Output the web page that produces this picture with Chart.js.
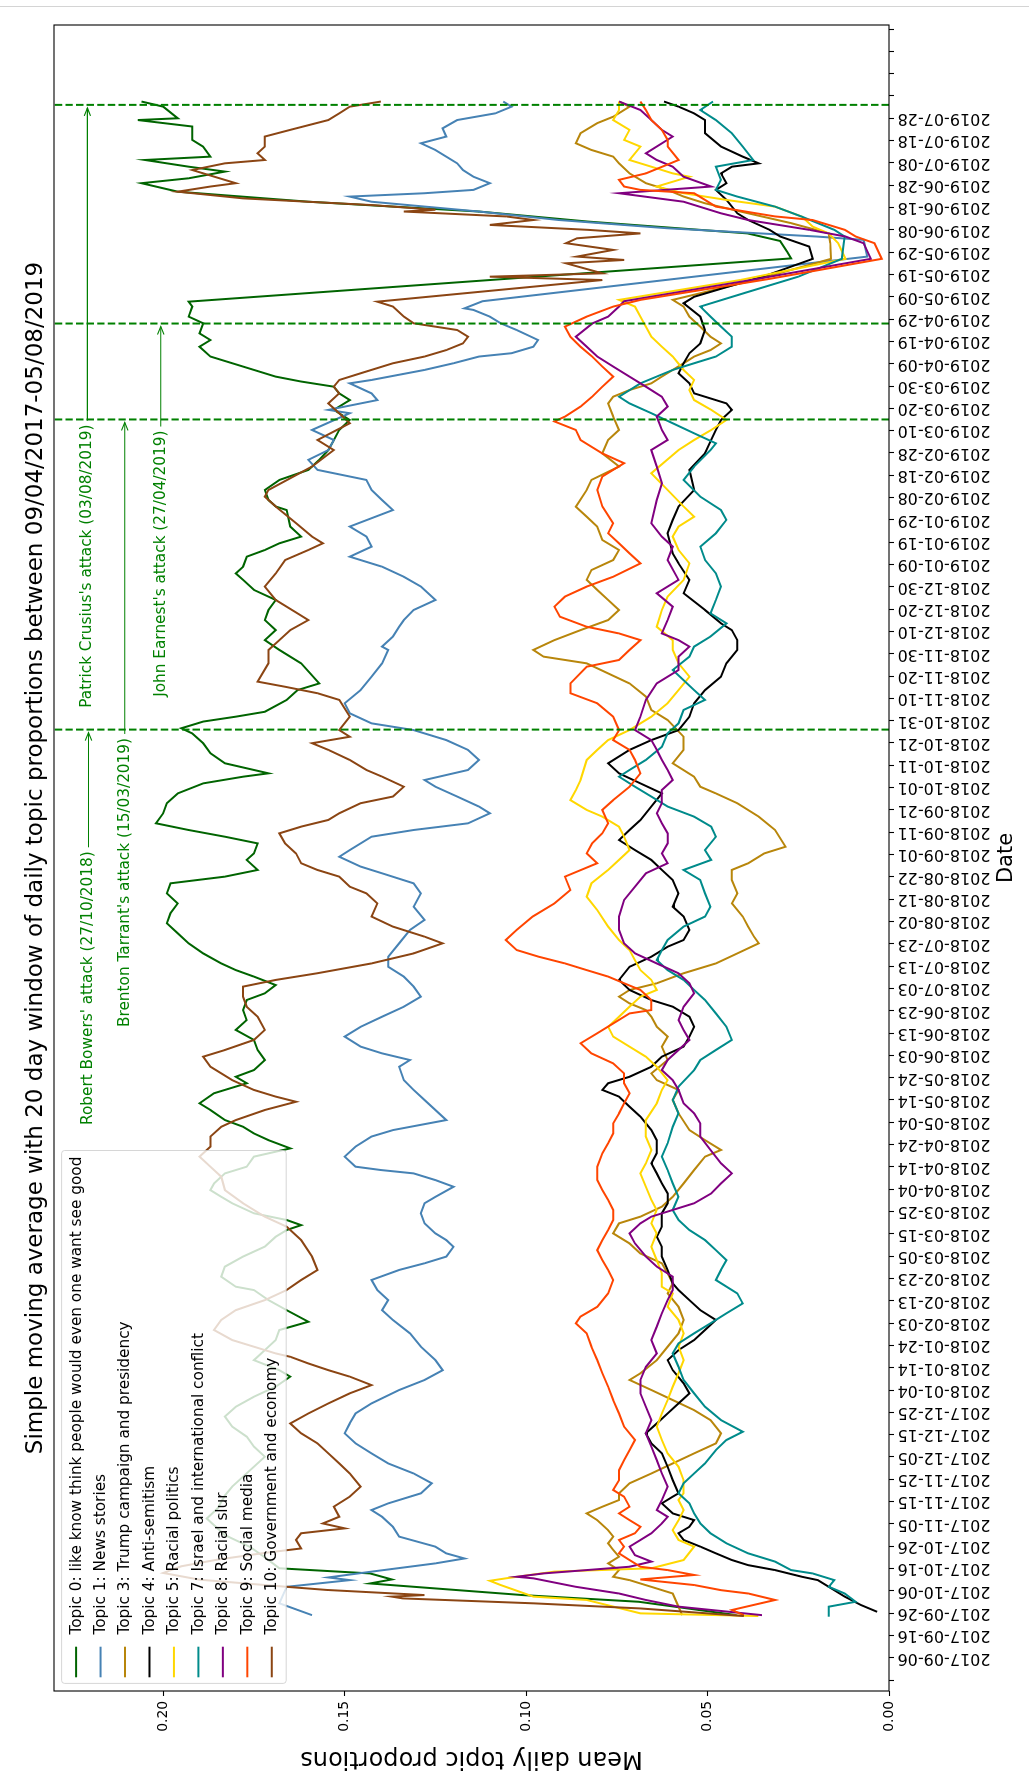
<!DOCTYPE html>
<html><head><meta charset="utf-8">
<script src="https://cdn.jsdelivr.net/npm/chart.js@4.4.1/dist/chart.umd.min.js"></script>
<style>
html,body{margin:0;padding:0;background:#fff;}
body{width:1029px;height:1785px;overflow:hidden;position:relative;}
#rule{position:absolute;left:0;top:6px;width:1029px;height:1px;background:#d4d4d4;}
#fig{position:absolute;left:0;top:0;width:1785px;height:1029px;transform-origin:0 0;transform:translate(0px,1785px) rotate(-90deg);}
</style></head><body>
<div id="rule"></div>
<div id="fig"><canvas id="c" width="1785" height="1029"></canvas></div>
<script>
// Day 0 of the x axis is 2017-09-06; every series is [day, mean proportion].
const START_DATE = '2017-09-06';
const LAST_LABEL_DAY = 690;
const yTickStep = 0.05;

const topicNames = [
  'Topic 0: like know think people would even one want see good',
  'Topic 1: News stories',
  'Topic 3: Trump campaign and presidency',
  'Topic 4: Anti-semitism',
  'Topic 5: Racial politics',
  'Topic 7: Israel and international conflict',
  'Topic 8: Racial slur',
  'Topic 9: Social media',
  'Topic 10: Government and economy'
];

const attackNames = ["Robert Bowers' attack (27/10/2018)", "Brenton Tarrant's attack (15/03/2019)",
  "Patrick Crusius's attack (03/08/2019)", "John Earnest's attack (27/04/2019)"];
const attackDates = ['2018-10-27', '2019-03-15', '2019-08-03', '2019-04-27'];

const topic0 = [[19.1,.042],[25.1,.069],[28.1,.101],[33.3,.143],[35.1,.137],[37.8,.143],[40.1,.168],[45,.172],[49.6,.176],[55,.183],[62.4,.188],[67,.185],
[72.7,.183],[76.7,.181],[81.2,.178],[85.6,.175],[90.1,.172],[94.6,.175],[99.1,.177],[103.6,.181],[108.1,.183],[112.5,.180],[117,.175],[121.5,.169],[126,.165],[128.9,.168],[133.4,.175],[137.9,.172],[142.4,.169],[146.9,.168],[150.6,.160],[155.8,.166],[160.3,.171],[164.8,.175],
[166.3,.180],[170.8,.184],[175.3,.183],[179.8,.178],[184.3,.172],[188.7,.169],[191.7,.166],[193.9,.162],[196.2,.166],[199.2,.175],[203.7,.181],[206.6,.184],[209.6,.187],[212.6,.186],[217.1,.183],[220.1,.177],[224.6,.175],[228.3,.165],[232,.171],[235,.175],[238,.178],[241,.183],[245.5,.187],[248.5,.190],[253,.186],[257.5,.177],[260.4,.180],
[263.4,.175],[267.9,.172],[272.4,.174],[276.9,.175],[281.4,.180],[285.8,.177],[290.3,.178],[294.8,.177],[297.8,.172],[301.5,.169],[305.3,.175],[308.2,.180],[311.2,.184],[315.7,.189],[320.2,.193],[324.7,.196],[329.2,.199],[333.7,.198],[338.1,.196],[342.6,.199],[347.1,.198],[350.1,.183],[353.1,.174],[357.6,.177],
[360.5,.175],[365,.174],[368,.183],[371,.193],[374,.202],[378.5,.200],[383,.199],[387.4,.196],[391.9,.189],[394.9,.178],[396.4,.171],[397.9,.175],[400.9,.183],[405.4,.187],[409.9,.189],[414.3,.192],[416.6,.195],[419.6,.189],[421.8,.180],[424,.172],[429.3,.166],[433.7,.163],[436.7,.157],[445.7,.162],
[451.7,.168],[456.1,.172],[460.6,.169],[465.1,.172],[469.6,.171],[474.1,.169],[478.6,.175],[483.1,.178],[486,.180],[489,.178],[493.5,.177],[496.5,.172],[499.5,.168],[502.5,.162],[507,.165],[514.4,.166],[516,.169],[518.9,.171],[523.4,.172],[527.9,.168],[532.4,.160],[536.9,.157],[541.3,.1545],[545.8,.153],
[550.3,.1515],[554.8,.1486],[559.3,.153],[563.7,.1486],[566.7,.1515],[569.7,.153],[572,.162],[574.2,.169],[577.2,.175],[580.2,.181],[583.2,.187],[587.6,.190],[590.6,.187],[593.6,.190],[598.1,.189],[601.1,.193],[605.6,.192],[607.8,.193],[627.2,.027],[630,.028],[635,.030],
[638.4,.039],[643.7,.083],[648.2,.113],[652.6,.160],[657.1,.196],[660.9,.206],[663.1,.193],[666.1,.183],[668.3,.193],[671.3,.205],[672.8,.187],[677.3,.189],[680.3,.192],[686.3,.192],[689.2,.207],[690,.196],[695.2,.200],[697.5,.206]];

const topic1 = [[19.1,.159],[24.4,.168],[31.8,.166],[34.8,.1486],[36,.1545],[38.6,.1426],[42.3,.125],[44.5,.117],[46.8,.122],[49.8,.125],[54.3,.135],[58.7,.1367],[63.2,.1397],[66.2,.1426],[69.2,.138],
[73.7,.129],[78.2,.126],[82.6,.131],[87.1,.138],[91.6,.1426],[96.1,.147],[100.6,.150],[105,.1486],[109.5,.147],[114,.1426],[120,.135],[124.5,.128],[128.9,.123],[133.4,.125],[139.4,.129],[145.4,.132],[151.4,.1367],[155.8,.1397],[160.3,.138],[164.8,.141],
[169.3,.1426],[173.8,.135],[176.8,.128],[179.8,.122],[184.2,.120],[187.2,.122],[190.2,.125],[194.7,.128],[199.2,.129],[203.7,.128],[206.6,.125],[211.1,.120],[214.1,.125],[217.1,.131],[218.6,.140],[220.1,.147],[224.6,.150],[229.1,.147],[233.6,.1426],[236.5,.1367],[241,.122],[250,.128],[254.5,.131],[258.9,.1337],
[264.9,.135],[267.9,.132],[270.9,.1397],[273.9,.1456],[278.4,.150],[282.8,.1456],[287.3,.1397],[291.8,.1337],[296.3,.129],[300.8,.131],[305.3,.1337],[309.7,.138],[314.2,.138],[320.2,.135],[326.2,.132],[330.7,.128],[336.6,.131],[342.6,.129],[347.1,.131],[351.6,.1397],[354.6,.1456],
[359,.1515],[362,.1486],[368,.1426],[371,.131],[374,.116],[378.5,.110],[381.5,.113],[386,.119],[390.4,.125],[393.4,.128],[397.9,.116],[402.4,.113],[406.9,.116],[411.3,.122],[415.8,.131],[418.8,.1426],[423.3,.1486],[427.8,.150],[433.7,.1456],[439.7,.1426],[445.7,.1397],
[451.7,.138],[453.2,.1397],[457.7,.1367],[462.1,.135],[465.1,.1337],[469.6,.131],[474.1,.125],[480.1,.129],[484.5,.1337],[489,.1397],[493.5,.1486],[498,.1426],[502.5,.144],[507,.1486],[514.4,.1367],[518.9,.1397],[523.4,.1426],[527.9,.144],[532.4,.1575],[536.9,.160],[541.3,.1545],
[545.8,.153],[550.3,.159],[557.8,.1486],[559.3,.1545],[563.7,.141],[566.7,.1426],[571.2,.1486],[572.7,.1426],[577.2,.128],[580.2,.120],[583.2,.113],[584.7,.104],[587.6,.098],[590.6,.0967],[595.1,.1026],[598.1,.107],[601.1,.110],[604.1,.1145],[604.8,.117],[608,.112],[628,.006],
[635.5,.007],[637,.02],[640.7,.061],[644.4,.091],[648.2,.113],[652.6,.1426],[654.9,.1486],[656.4,.128],[657.9,.1145],[660.9,.110],[663.8,.1145],[666.8,.1174],[669.8,.119],[672.8,.122],[675.8,.125],[678.8,.129],[681.8,.122],[685.5,.123],[689.2,.119],[692.2,.1085],[695.2,.104],[697.5,.1063]];

const topic3 = [[19.1,.057],[22.9,.058],[28.8,.0596],[31.8,.0655],[34.8,.0715],[36.3,.076],[39.3,.0744],[42.3,.0774],[45.3,.0744],[48.3,.076],[51.3,.0774],[54.3,.076],[57.2,.0774],[61.7,.0804],[64.7,.0833],[67.7,.079],[70.7,.0744],
[73.7,.0744],[78.2,.0715],[82.6,.0655],[87.1,.0596],[91.6,.0537],[96.1,.0477],[100.6,.0463],[106.5,.0492],[111,.0537],[115.5,.0596],[120,.0655],[124.5,.0715],[127.5,.0685],[133.4,.064],[139.4,.061],[145.4,.058],[151.4,.0566],[157.3,.058],[163.3,.061],
[167.8,.0596],[172.3,.061],[176.8,.0626],[181.2,.0685],[185.7,.0715],[190.2,.076],[194.7,.0744],[197.7,.0685],[202.2,.0626],[206.6,.0596],[212.6,.0566],[218.6,.0537],[224.6,.0507],[227.6,.0463],[232,.0507],[236.5,.055],[244,.058],[250,.0596],[254.5,.058],[258.9,.064],
[261.9,.0655],[267.9,.061],[273.9,.0626],[278.4,.061],[282.8,.064],[287.3,.0655],[290.3,.067],[293.3,.0715],[296.3,.0744],[299.3,.0715],[302.3,.064],[306.8,.0566],[311.2,.0477],[315.7,.0418],[320.2,.0359],[323.2,.0372],[327.7,.0388],[332.2,.0403],[338.1,.0433],[342.6,.0418],[348.6,.0433],[353.1,.0433],
[356.1,.0388],[360.5,.0344],[363.5,.0285],[371,.0314],[377,.0359],[383,.0418],[387.4,.0477],[390.4,.052],[394.9,.0537],[400.9,.0596],[406.9,.0566],[412.8,.0566],[420.3,.061],[424.8,.0655],[430.8,.067],[436.7,.0715],[445.7,.0833],
[448.7,.0952],[451.7,.098],[456.1,.0922],[460.6,.085],[465.1,.0774],[469.6,.0744],[474.1,.0774],[478.6,.0804],[483.1,.0833],[487.5,.082],[492,.076],[496.5,.0744],[501,.079],[507,.0804],[511.4,.0833],[515.9,.0863],[523.4,.0833],[527.9,.082],[533.9,.0744],[539.8,.079],
[545.8,.0774],[550.3,.0744],[556.3,.076],[562.2,.0774],[565.2,.076],[568.2,.0715],[571.2,.0655],[574.2,.0626],[577.2,.0596],[580.2,.0566],[583.2,.0537],[586.1,.0492],[589.1,.0463],[592.1,.0492],[596.6,.052],[601.1,.055],[605.6,.0566],[608.6,.0596],[617.5,.037],[627,.016],[634,.0162],
[638.4,.0166],[643,.027],[647.4,.0388],[651.9,.0507],[654.9,.0566],[657.9,.061],[660.9,.067],[665.3,.0715],[669.8,.0744],[672.8,.076],[675.8,.082],[678.8,.0863],[683.3,.085],[687.8,.0804],[690.7,.076],[695.2,.0715],[697.5,.0744]];

const topic4 = [[20.6,.0033],[23.6,.0077],[27.4,.0122],[31.8,.0166],[34.8,.0196],[36.3,.024],[39.3,.0314],[41.5,.0388],[43.8,.0433],[46.8,.0477],[49.8,.052],[52.8,.0566],[55.8,.058],[58.7,.055],[61.7,.0537],[64.7,.0596],[69.2,.0626],[72.2,.0596],
[73.7,.058],[79.6,.0596],[85.6,.061],[91.6,.0626],[96.1,.0655],[100.6,.067],[105,.064],[109.5,.061],[114,.058],[118.5,.055],[123,.0566],[128.9,.0596],[133.4,.061],[137.9,.058],[142.4,.0537],[146.9,.0507],[151.4,.0477],[155.8,.052],[160.3,.055],[164.8,.058],
[167.8,.0596],[173.8,.061],[179.8,.0626],[184.2,.0626],[188.7,.064],[193.2,.0626],[199.2,.0626],[203.7,.061],[208.1,.061],[212.6,.0626],[217.1,.064],[221.6,.0655],[226.1,.064],[232,.064],[236.5,.0655],[242.5,.0685],[247,.0715],[251.5,.0744],[254.5,.079],[257.5,.0774],
[260.4,.0715],[264.9,.0655],[269.4,.0626],[273.9,.0566],[278.4,.055],[282.8,.0537],[287.3,.055],[291.8,.0596],[294.8,.0655],[299.3,.0715],[303.8,.0744],[309.7,.0715],[314.2,.0655],[318.7,.061],[321.7,.0566],[326.2,.055],[332.2,.0566],[336.6,.0596],[342.6,.058],[348.6,.0596],[353.1,.0626],
[357.6,.0655],[362,.070],[366.5,.0744],[371,.0715],[375.5,.0685],[381.5,.0655],[387.4,.0626],[391.9,.0685],[396.4,.0744],[400.9,.0774],[406.9,.0715],[411.3,.0655],[415.8,.058],[421.8,.055],[427.8,.0537],[433.7,.0507],[439.7,.0463],[445.7,.0448],[451.7,.0418],
[456.1,.0418],[460.6,.0433],[463.6,.0463],[469.6,.0507],[477.1,.0566],[483.1,.055],[490.5,.058],[495,.0596],[504,.061],[510,.0596],[516,.058],[523.4,.0537],[532.4,.055],[539.8,.0507],
[545.8,.049],[550.3,.0477],[554.8,.0463],[559.3,.0433],[562.2,.0448],[566.7,.0537],[571.2,.055],[575.7,.058],[580.2,.0566],[584.7,.055],[589.1,.052],[595.1,.0507],[601.1,.052],[607.1,.0566],[610,.0537],[620,.033],[627,.021],[632.5,.022],
[637,.030],[640,.0329],[644.4,.0388],[647.4,.0418],[653.4,.0448],[657.9,.0477],[660.9,.0448],[665.3,.0463],[668.3,.0433],[669.8,.0359],[672.8,.0403],[677.3,.0463],[683.3,.0507],[689.2,.0507],[692.2,.0537],[695.2,.058],[697.5,.062]];

const topic5 = [[18.7,.036],[19.9,.0685],[25.9,.0833],[27.4,.098],[32.6,.107],[34.5,.110],[35.6,.1056],[38.6,.0922],[40.1,.0655],[43.8,.0566],[49.8,.0537],[52.8,.058],[57.2,.0596],[61.7,.058],[66.2,.0566],[70.7,.058],
[73.7,.0566],[79.6,.0566],[85.6,.058],[91.6,.061],[97.6,.0626],[103.6,.064],[109.5,.0626],[115.5,.061],[121.5,.0596],[127.5,.058],[133.4,.0566],[139.4,.058],[145.4,.0566],[151.4,.058],[157.3,.061],[163.3,.0596],
[166.3,.0626],[172.3,.0626],[178.2,.064],[184.2,.0655],[190.2,.064],[194.7,.0655],[200.7,.064],[205.2,.0655],[211.1,.067],[217.1,.0685],[221.6,.067],[227.6,.0655],[233.6,.067],[241,.067],[248.5,.064],[254.5,.0626],[258.9,.061],
[264.9,.064],[269.4,.067],[273.9,.0715],[278.4,.076],[282.8,.0774],[287.3,.0744],[291.8,.0715],[296.3,.0685],[299.3,.064],[303.8,.0655],[308.2,.0685],[312.7,.070],[317.2,.0715],[321.7,.0744],[327.7,.0774],[335.1,.0804],[341.1,.0833],[347.1,.082],[353.1,.0774],
[357.6,.0744],[362,.0715],[368,.073],[372.5,.0744],[377,.079],[380,.0833],[384.4,.0878],[388.9,.0863],[393.4,.085],[402.4,.0833],[406.9,.0804],[411.3,.0774],[415.8,.0715],[421.8,.0655],[427.8,.061],[433.7,.058],[439.7,.055],[445.7,.058],
[451.7,.0596],[456.1,.0596],[462.1,.064],[469.6,.0626],[475.6,.061],[483.1,.0566],[490.5,.055],[496.5,.058],[502.5,.0596],[507,.058],[511.4,.0537],[516,.0566],[523.4,.061],[530.9,.0655],[541.3,.058],
[545.8,.0537],[550.3,.049],[554.8,.0448],[559.3,.049],[563.7,.0537],[568.2,.055],[572.7,.0537],[577.2,.0566],[583.2,.0596],[587.6,.0626],[592.1,.0655],[596.6,.067],[601.1,.0685],[605.6,.070],[608.6,.0744],[617.5,.041],[627,.012],[634,.014],
[638.4,.0166],[641.4,.021],[645.9,.024],[650.4,.0314],[653.4,.0448],[656.4,.0566],[659.4,.064],[663.8,.055],[665.3,.0596],[668.3,.0655],[671.3,.0715],[677.3,.0685],[680.3,.073],[684.8,.0715],[689.2,.076],[693.7,.0744],[697.5,.0744]];

const topic7 = [[18.4,.0166],[22.9,.0166],[25.1,.0092],[28.8,.0122],[31.8,.0166],[34.8,.0151],[37.8,.0211],[39.3,.027],[43.1,.0314],[46.8,.0388],[51.3,.0448],[55.8,.0492],[60.2,.052],[64.7,.0537],[69.2,.055],
[73.7,.058],[78.2,.0566],[82.6,.0537],[87.1,.0507],[93.1,.0477],[97.6,.0448],[101.3,.0403],[106.5,.0463],[112.5,.0507],[118.5,.0537],[124.5,.0566],[130.4,.058],[136.4,.0596],[140.9,.058],[145.4,.0537],[149.9,.0492],[154.4,.0448],[158.8,.0403],[163.3,.0418],
[169.3,.0477],[173.8,.0463],[178.2,.0448],[182.7,.0477],[187.2,.0507],[191.7,.055],[196.2,.058],[200.7,.0596],[206.6,.058],[212.6,.0596],[218.6,.061],[224.6,.0626],[230.6,.061],[238,.0596],[244,.058],[250,.0596],[256,.058],
[263.4,.0537],[267.9,.052],[272.4,.0477],[276.9,.0433],[282.8,.0448],[288.8,.0477],[294.8,.0507],[299.3,.0537],[303.8,.0566],[308.2,.061],[312.7,.064],[317.2,.0626],[321.7,.061],[327.7,.0566],[332.2,.0507],[336.6,.0492],[342.6,.0507],[348.6,.052],[353.1,.0566],
[357.6,.049],[362,.0507],[368,.0477],[372.5,.049],[377,.0537],[381.5,.061],[386,.0655],[390.4,.070],[394.9,.0744],[397.9,.0715],[402.4,.067],[408.3,.0626],[414.3,.061],[418.8,.058],[424.8,.0566],[429.3,.0507],[433.7,.0537],[442.7,.0596],[448.7,.055],
[453.2,.0537],[457.7,.0492],[463.6,.0448],[468.1,.0492],[474.1,.0477],[480.1,.0463],[486,.0477],[492,.0507],[498,.052],[504,.0477],[510,.0448],[514.4,.0463],[520.4,.052],[527.9,.0566],[533.9,.0537],[541.3,.0492],
[544.3,.0477],[548.8,.0537],[553.3,.0596],[557.8,.0655],[562.2,.0715],[565.2,.0744],[571.2,.0685],[577.2,.0596],[580.2,.0537],[583.2,.0477],[587.6,.0433],[592.1,.0433],[596.6,.0463],[601.1,.0492],[605.6,.052],[611.6,.040],[619,.025],[627,.013],[634,.0125],
[637,.0122],[640,.0151],[645.9,.024],[650.4,.0314],[654.9,.0418],[657.9,.0477],[662.4,.0463],[668.3,.0477],[671.3,.0374],[677.3,.0403],[683.3,.0433],[689.2,.0477],[693.7,.052],[697.5,.0485]];

const topic8 = [[19.1,.035],[22.9,.058],[25.9,.067],[28.8,.0744],[31.8,.0863],[35.6,.098],[36.3,.1026],[37.8,.0952],[39.3,.0833],[40.8,.0715],[43.1,.0655],[46,.070],[49.8,.0715],[52.8,.0685],[55.8,.0655],[60.2,.0626],[63.2,.061],[66.2,.064],[70.7,.0626],
[76.7,.061],[82.6,.0626],[88.6,.064],[94.6,.0655],[100.6,.067],[106.5,.0655],[112.5,.067],[118.5,.0685],[124.5,.0685],[130.4,.067],[136.4,.064],[142.4,.0655],[148.4,.064],[154.4,.0626],[160.3,.061],[164.8,.0596],
[170.8,.0596],[175.3,.064],[179.8,.067],[185.7,.070],[190.2,.0715],[194.7,.0685],[197.7,.0655],[200.7,.0596],[203.7,.0537],[208.1,.049],[212.6,.0463],[217.1,.0433],[221.6,.0463],[227.6,.0492],[233.6,.052],[239.5,.052],[244,.0537],[248.5,.0566],[254.5,.058],[258.9,.0596],
[263.4,.0626],[267.9,.061],[272.4,.058],[276.9,.055],[281.3,.0566],[285.8,.058],[291.8,.0566],[297.8,.0537],[302.3,.055],[306.8,.058],[311.2,.064],[315.7,.070],[320.2,.073],[326.2,.0744],[332.2,.0744],[339.6,.073],[345.6,.070],[351.6,.067],
[356.1,.061],[360.5,.0626],[365,.061],[369.5,.061],[374,.0626],[378.5,.064],[383,.0626],[388.9,.0626],[393.4,.0596],[397.9,.061],[402.4,.0626],[406.9,.064],[411.3,.0655],[415.8,.070],[421.8,.0685],[429.3,.067],[436.7,.064],[442.7,.058],[448.7,.058],
[453.2,.055],[456.1,.058],[459.1,.0626],[465.1,.061],[471.1,.0596],[477.1,.064],[483.1,.058],[492,.061],[498,.0596],[502.5,.0626],[508.5,.0655],[518.9,.064],[526.4,.0626],[533.9,.064],[541.3,.0655],
[545.8,.061],[550.3,.0626],[556.3,.064],[560.8,.061],[565.2,.0626],[569.7,.067],[574.2,.0715],[578.7,.076],[583.2,.0804],[587.6,.0833],[592.1,.0863],[598.1,.0817],[601.1,.0774],[605.6,.0744],[608,.073],[617.5,.038],[627,.005],[634,.007],
[637,.012],[640,.022],[644.4,.0388],[647.4,.0463],[652.6,.0566],[656.4,.0744],[659.4,.049],[663.8,.0566],[668.3,.0596],[671.3,.064],[674.3,.067],[681.8,.0596],[684.8,.0626],[689.2,.0655],[693.7,.0685],[697.5,.0744]];

const topic9 = [[19.1,.040],[21.4,.0433],[25.9,.0314],[28.8,.0388],[30.3,.0463],[32.6,.0537],[35.1,.0685],[37.1,.0537],[39.3,.061],[40.8,.0685],[43.8,.0715],[46.8,.0744],[49.8,.073],[52.8,.0744],[55.8,.070],[58.7,.0685],[61.7,.0715],[64.7,.0744],[67.7,.0715],[72.2,.073],
[75.2,.076],[79.6,.0744],[84.1,.0744],[88.6,.073],[93.1,.0715],[97.6,.070],[103.6,.073],[109.5,.0744],[115.5,.076],[121.5,.0774],[127.5,.079],[133.4,.0804],[139.4,.082],[145.4,.0833],[149.9,.0863],[152.9,.085],[157.3,.0804],[163.3,.0774],
[169.3,.076],[173.8,.0774],[178.2,.079],[182.7,.0804],[187.2,.079],[191.7,.0774],[196.2,.076],[200.7,.076],[205.2,.0774],[209.6,.079],[214.1,.0804],[220.1,.0804],[226.1,.079],[230.6,.0774],[235,.076],[239.5,.076],[244,.0744],[248.5,.073],[253,.0715],[257.5,.073],
[261.9,.073],[266.4,.076],[270.9,.082],[275.4,.085],[279.9,.0804],[284.3,.076],[288.8,.0715],[290.3,.0655],[294.8,.0655],[299.3,.0685],[302.3,.073],[305.3,.0774],[308.2,.0833],[311.2,.0893],[314.2,.0965],[317.2,.1026],[321.7,.1056],[326.2,.1026],[332.2,.0982],[338.1,.0922],[344.1,.0878],[350.1,.0893],
[356.1,.0804],[360.5,.0833],[365,.0818],[369.5,.079],[374,.0774],[380,.079],[384.4,.076],[390.4,.0715],[396.4,.0685],[402.4,.070],[406.9,.0715],[411.3,.076],[415.8,.0744],[421.8,.076],[427.8,.0804],[432.3,.0878],[436.7,.0878],[444.2,.0833],[447.2,.0744],[451.7,.0715],
[456.1,.0685],[459.1,.0744],[462.1,.0833],[466.6,.0907],[471.1,.0922],[475.6,.0893],[480.1,.0833],[484.5,.076],[490.5,.0685],[495,.0715],[499.5,.0744],[504,.0774],[508.5,.076],[516,.079],[523.4,.0804],[529.4,.079],[535.4,.073],[539.8,.079],
[545.8,.085],[550.3,.0863],[554.1,.0922],[556.3,.0893],[560.8,.085],[565.2,.0818],[569.7,.079],[574.2,.076],[578.7,.079],[583.2,.0818],[587.6,.085],[592.1,.0878],[596.6,.0893],[601.1,.0833],[605.6,.076],[608.6,.0685],[618,.033],[627,.002],[634,.004],
[637,.0092],[640,.0122],[644.4,.0211],[646,.0314],[650.4,.0477],[656.4,.0537],[657.9,.0685],[659.4,.073],[662.4,.0744],[665.3,.067],[671.3,.058],[677.3,.061],[680.3,.061],[684.8,.0626],[689.2,.0655],[693.7,.067],[697.5,.0685]];

const topic10 = [[18.7,.040],[22.1,.0685],[24.4,.098],[26.6,.134],[27.4,.137],[28.1,.128],[30.4,.155],[31.8,.166],[35,.19],[38,.20],[41,.195],[44,.185],[47,.172],
[49,.162],[52.8,.1634],[55.8,.162],[58,.150],[60.2,.156],[63.2,.1515],[67.7,.153],[72.2,.1486],
[76.7,.1456],[82.6,.1486],[87.1,.1515],[91.6,.1545],[96.1,.1575],[100.6,.162],[105,.165],[109.5,.160],[114,.1545],[118.5,.1486],[122.2,.1426],[126,.1486],[128.9,.1545],[131.9,.160],[134.9,.165],[136.4,.169],[139.4,.175],[142.4,.181],[146.9,.186],[151.4,.184],[155.8,.180],[160.3,.172],[164.8,.166],
[169.3,.162],[173.8,.1575],[179.8,.159],[187.2,.162],[193.2,.166],[197.7,.172],[203.7,.178],[209.6,.183],[215.6,.184],[220.1,.187],[224.6,.190],[229.1,.187],[233.6,.187],[238,.184],[241,.180],[245.5,.172],[249.2,.1634],[251.5,.169],[254.5,.175],[258.9,.181],
[264.9,.187],[269.4,.189],[272.4,.183],[276.9,.175],[281.4,.172],[287.3,.174],[291.8,.177],[296.3,.178],[300.8,.178],[303.8,.169],[306.8,.1575],[311.2,.1426],[315.7,.131],[320.2,.123],[323.2,.128],[327.7,.1367],[332.2,.1426],[338.1,.141],[342.6,.144],[345.6,.1486],[350.1,.1515],[353.1,.1575],
[356.1,.162],[360.5,.1634],[365,.1664],[369.5,.168],[372.5,.162],[375.5,.1545],[378.5,.1515],[383,.1456],[386,.1367],[390.4,.1337],[394.9,.1397],[397.9,.144],[402.4,.1486],[406.9,.1545],[409.9,.159],[412.8,.1486],[415.8,.1515],[421.8,.1486],[429.3,.1515],[432.3,.1575],[435.2,.1664],[437.5,.174],[445.7,.171],
[451.7,.171],[456.1,.168],[460.6,.165],[465.1,.160],[468.1,.163],[474.1,.169],[480.1,.172],[486,.169],[492,.1664],[496.5,.160],[499.5,.156],[502.5,.159],[508.5,.1634],[516,.169],[520.4,.172],[523.4,.171],[533.9,.159],[541.3,.153],
[545.8,.1575],[553.3,.1486],[557.8,.1515],[562.2,.1545],[566.7,.1515],[569.7,.153],[572.7,.1515],[575.7,.1456],[580.2,.1367],[583.2,.128],[586.1,.122],[589.1,.1174],[592.1,.116],[595.1,.119],[596.6,.125],[598.1,.131],[601.1,.1337],[605.6,.1367],[607.8,.141],[617.5,.079],[619,.110],[620.5,.079],[625,.089],[626.5,.073],[628,.086],[631,.076],[634,.089],
[636.2,.086],[638.4,.0685],[640,.083],[642.2,.110],[644.4,.098],[646,.1055],[648.2,.1337],[649,.125],[651.1,.1426],[654.1,.178],[657.1,.196],[659.4,.187],[660.9,.180],[666.8,.192],[669.8,.183],[671.3,.172],[674.3,.174],[677.3,.172],[681.8,.172],[684.8,.165],[689.2,.1545],[692.2,.1515],[695.2,.1486],[697.5,.140]];

const topicSeries = [topic0, topic1, topic3, topic4, topic5, topic7, topic8, topic9, topic10];
const topicColors = ['#006400', '#4682b4', '#b8860b', '#000000', '#ffd700', '#008b8b', '#800080', '#ff4500', '#8b4513'];

// ---- helpers ----
const DAY_MS = 86400000;
const startMs = Date.parse(START_DATE + 'T00:00:00Z');
const dayOf = s => (Date.parse(s + 'T00:00:00Z') - startMs) / DAY_MS;
const labelOf = d => new Date(startMs + d * DAY_MS).toISOString().slice(0, 10);

const FONT = '"DejaVu Sans", "Liberation Sans", sans-serif';
const GREEN = '#008000';

// annotation layout: text start day and height for each attack
const annotLayout = [
  {textDay: 238.8, y: 0.2206},
  {textDay: 282.7, y: 0.2106},
  {textDay: 425.8, y: 0.2209},
  {textDay: 430.7, y: 0.2007}
];

const decor = {
  id: 'decor',
  afterDatasetsDraw(chart) {
    const {ctx, chartArea: a, scales: {x, y}} = chart;
    ctx.save();
    // vertical event lines
    ctx.strokeStyle = GREEN; ctx.lineWidth = 2; ctx.setLineDash([7.4, 3.2]);
    attackDates.forEach(ds => {
      const px = x.getPixelForValue(dayOf(ds));
      ctx.beginPath(); ctx.moveTo(px, a.bottom); ctx.lineTo(px, a.top); ctx.stroke();
    });
    ctx.setLineDash([]);
    // annotations with arrows
    ctx.font = '15.3px ' + FONT; ctx.fillStyle = GREEN; ctx.textBaseline = 'middle'; ctx.textAlign = 'left';
    ctx.lineWidth = 1.1;
    attackNames.forEach((name, i) => {
      const L = annotLayout[i];
      const tx = x.getPixelForValue(L.textDay), ty = y.getPixelForValue(L.y);
      ctx.fillText(name, tx, ty);
      const w = ctx.measureText(name).width;
      const x0 = tx + w + 4, x1 = x.getPixelForValue(dayOf(attackDates[i])) - 3;
      ctx.beginPath(); ctx.moveTo(x0, ty); ctx.lineTo(x1, ty); ctx.stroke();
      ctx.beginPath(); ctx.moveTo(x1 - 8, ty - 3.2); ctx.lineTo(x1, ty); ctx.lineTo(x1 - 8, ty + 3.2); ctx.stroke();
    });
    // axes frame
    ctx.strokeStyle = '#000'; ctx.lineWidth = 1.1;
    ctx.strokeRect(a.left, a.top, a.right - a.left, a.bottom - a.top);
    // legend
    const lx = 101.6, ly = 61.6, rowH = 24.46, fs = 15.3;
    ctx.font = fs + 'px ' + FONT;
    let maxW = 0; topicNames.forEach(n => maxW = Math.max(maxW, ctx.measureText(n).width));
    const bw = 6.1 + 30.6 + 12.2 + maxW + 6.1, bh = 2 * 6.1 + 9 * 16.8 + 8 * 7.65;
    ctx.beginPath(); ctx.roundRect(lx, ly, bw, bh, 3);
    ctx.fillStyle = 'rgba(255,255,255,0.8)'; ctx.fill();
    ctx.strokeStyle = 'rgba(204,204,204,0.8)'; ctx.lineWidth = 1; ctx.stroke();
    topicNames.forEach((n, i) => {
      const cy = ly + 6.1 + 8.4 + i * rowH;
      ctx.strokeStyle = topicColors[i]; ctx.lineWidth = 2;
      ctx.beginPath(); ctx.moveTo(lx + 6.1, cy); ctx.lineTo(lx + 36.7, cy); ctx.stroke();
      ctx.fillStyle = '#000'; ctx.textBaseline = 'middle';
      ctx.fillText(n, lx + 48.9, cy + 0.5);
    });
    // figure title
    ctx.font = '23px ' + FONT; ctx.fillStyle = '#000'; ctx.textAlign = 'center'; ctx.textBaseline = 'middle';
    ctx.fillText('Simple moving average with 20 day window of daily topic proportions between 09/04/2017-05/08/2019',
      (a.left + a.right) / 2, 36);
    ctx.restore();
  }
};

new Chart(document.getElementById('c'), {
  type: 'line',
  data: {
    datasets: topicSeries.map((s, i) => ({
      label: topicNames[i],
      data: s.map(p => ({x: p[0], y: p[1]})),
      borderColor: topicColors[i],
      borderWidth: 2,
      pointRadius: 0,
      tension: 0,
      fill: false,
      order: topicSeries.length - i
    }))
  },
  options: {
    responsive: false,
    animation: false,
    devicePixelRatio: 1,
    layout: {padding: {top: 54, right: 25, left: 0, bottom: 0}},
    plugins: {legend: {display: false}, tooltip: {enabled: false}, title: {display: false}},
    scales: {
      x: {
        type: 'linear', min: -14.9, max: 731.8,
        afterFit: s => { s.height = 140; },
        border: {display: false},
        grid: {drawOnChartArea: false, drawTicks: true, tickLength: 5, tickColor: '#000', tickWidth: 1.1},
        ticks: {
          stepSize: 10, includeBounds: false, autoSkip: false, minRotation: 90, maxRotation: 90,
          padding: 3.5, color: '#000', font: {family: FONT, size: 16},
          callback: v => (v >= 0 && v <= LAST_LABEL_DAY) ? labelOf(v) : ''
        },
        title: {display: true, text: 'Date', color: '#000', font: {family: FONT, size: 21}, padding: {top: 0, bottom: 9.4}}
      },
      y: {
        type: 'linear', min: 0, max: 0.2301,
        afterFit: s => { s.width = 94; },
        border: {display: false},
        grid: {drawOnChartArea: false, drawTicks: true, tickLength: 5, tickColor: '#000', tickWidth: 1.1},
        ticks: {stepSize: yTickStep, includeBounds: false, padding: 4.9, color: '#000', font: {family: FONT, size: 13.9},
          callback: v => v.toFixed(2)},
        title: {display: true, text: 'Mean daily topic proportions', color: '#000', font: {family: FONT, size: 24}, padding: {top: 12, bottom: 0}}
      }
    }
  },
  plugins: [decor]
});
</script></body></html>
